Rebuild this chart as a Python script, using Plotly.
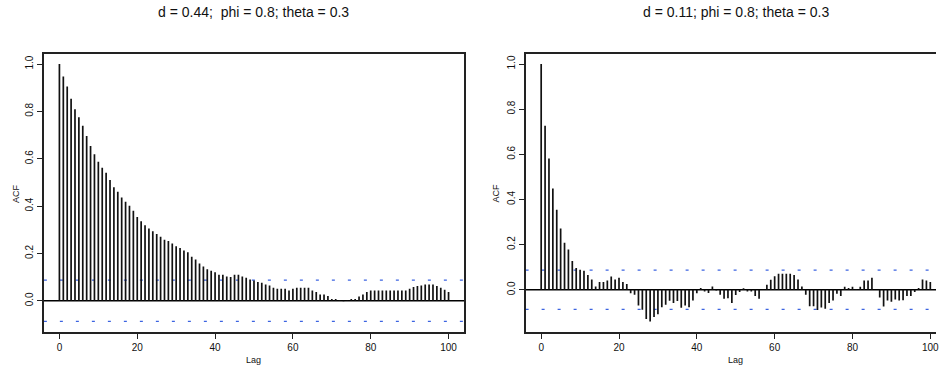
import plotly.graph_objects as go

# Sample autocorrelations of two simulated ARFIMA(1, d, 1) series, lags 0..100
lags = list(range(101))

acf_d044 = [
    1.000, 0.947, 0.905, 0.853, 0.809, 0.775, 0.739, 0.696, 0.654, 0.619,
    0.587, 0.562, 0.541, 0.510, 0.479, 0.460, 0.436, 0.418, 0.401, 0.380,
    0.354, 0.336, 0.319, 0.305, 0.294, 0.282, 0.270, 0.258, 0.253, 0.242,
    0.230, 0.223, 0.212, 0.205, 0.186, 0.174, 0.157, 0.145, 0.133, 0.127,
    0.121, 0.110, 0.110, 0.103, 0.100, 0.110, 0.110, 0.103, 0.097, 0.090,
    0.086, 0.079, 0.076, 0.069, 0.065, 0.055, 0.051, 0.051, 0.051, 0.044,
    0.051, 0.055, 0.055, 0.055, 0.055, 0.044, 0.037, 0.027, 0.027, 0.020,
    0.008, 0.008, 0.002, -0.002, 0.001, 0.008, 0.008, 0.018, 0.027, 0.037,
    0.044, 0.044, 0.044, 0.044, 0.044, 0.044, 0.044, 0.044, 0.044, 0.044,
    0.051, 0.058, 0.062, 0.065, 0.069, 0.069, 0.069, 0.062, 0.055, 0.047,
    0.037,
]

acf_d011 = [
    1.000, 0.726, 0.582, 0.449, 0.355, 0.272, 0.208, 0.178, 0.127, 0.097,
    0.089, 0.084, 0.065, 0.046, 0.015, 0.034, 0.034, 0.041, 0.059, 0.046,
    0.053, 0.035, 0.026, -0.015, -0.022, -0.070, -0.088, -0.129, -0.140, -0.120,
    -0.108, -0.077, -0.066, -0.049, -0.059, -0.050, -0.080, -0.070, -0.077, -0.047,
    -0.015, 0.008, -0.008, -0.014, 0.015, -0.003, -0.022, -0.040, -0.038, -0.059,
    -0.023, -0.010, 0.007, -0.008, -0.008, -0.027, -0.040, 0.001, 0.022, 0.045,
    0.060, 0.071, 0.071, 0.071, 0.071, 0.065, 0.046, 0.015, -0.022, -0.073,
    -0.073, -0.090, -0.078, -0.084, -0.059, -0.047, -0.017, -0.028, 0.014, 0.008,
    0.014, 0.002, 0.014, 0.041, 0.041, 0.053, 0.000, -0.034, -0.074, -0.047,
    -0.053, -0.043, -0.047, -0.046, -0.028, -0.028, -0.010, 0.008, 0.046, 0.041,
    0.034,
]

conf_limit = 0.087  # approx. 1.96 / sqrt(n)

panel_titles = [
    "d = 0.44;&nbsp; phi = 0.8; theta = 0.3",
    "d = 0.11; phi = 0.8; theta = 0.3",
]
x_tick_vals = [0, 20, 40, 60, 80, 100]
y_tick_vals = [0.0, 0.2, 0.4, 0.6, 0.8, 1.0]
y_tick_text = ["0.0", "0.2", "0.4", "0.6", "0.8", "1.0"]

W, H = 939, 366
FONT = "Liberation Sans, Arial, sans-serif"

# pixel geometry of the two plot boxes
box_top, box_bottom = 53.7, 331.7
left_box = (44.0, 465.6)
right_left = 527.3
x_lo, x_hi = -4.0, 104.0
px_per_lag = (left_box[1] - left_box[0]) / (x_hi - x_lo)
right_x_hi = x_lo + (W - right_left) / px_per_lag


def px_x(p):
    return p / W


def px_y(p):
    return (H - p) / H


def stems(values):
    xs, ys = [], []
    for k, v in zip(lags, values):
        xs += [k, k, None]
        ys += [0, v, None]
    return xs, ys


def y_range(values):
    lo = min(min(values), -conf_limit)
    hi = max(max(values), conf_limit)
    pad = 0.04 * (hi - lo)
    return [lo - pad, hi + pad]


fig = go.Figure()

for i, vals in enumerate([acf_d044, acf_d011]):
    xa = "x" if i == 0 else "x2"
    ya = "y" if i == 0 else "y2"
    sx, sy = stems(vals)
    # confidence bounds
    for c in (conf_limit, -conf_limit):
        fig.add_trace(go.Scatter(
            x=[x_lo, x_hi], y=[c, c], xaxis=xa, yaxis=ya, mode="lines",
            line=dict(color="rgb(60,100,225)", width=1.2, dash="3px,13px"),
            hoverinfo="skip", showlegend=False))
    # zero line
    fig.add_trace(go.Scatter(
        x=[x_lo, x_hi], y=[0, 0], xaxis=xa, yaxis=ya, mode="lines",
        line=dict(color="black", width=1.5), hoverinfo="skip", showlegend=False))
    # ACF spikes
    fig.add_trace(go.Scatter(
        x=sx, y=sy, xaxis=xa, yaxis=ya, mode="lines",
        line=dict(color="#111111", width=1.7), showlegend=False))

axis_common = dict(
    showgrid=False, zeroline=False, showline=True, linecolor="#222222",
    linewidth=1.6, ticks="outside", ticklen=5, tickwidth=1, tickcolor="#222222",
    tickfont=dict(family=FONT, size=10, color="#111111"),
    ticklabeloverflow="allow",
)

fig.update_layout(
    width=W, height=H, margin=dict(l=0, r=0, t=0, b=0),
    paper_bgcolor="white", plot_bgcolor="white",
    xaxis=dict(axis_common, domain=[px_x(left_box[0]), px_x(left_box[1])],
               range=[x_lo, x_hi], tickvals=x_tick_vals, mirror=True,
               anchor="y"),
    yaxis=dict(axis_common, domain=[px_y(box_bottom), px_y(box_top)],
               range=y_range(acf_d044), tickvals=y_tick_vals,
               ticktext=y_tick_text, tickangle=-90, mirror=True, anchor="x"),
    xaxis2=dict(axis_common, domain=[px_x(right_left), 1.0],
                range=[x_lo, right_x_hi], tickvals=x_tick_vals, mirror=True,
                anchor="y2"),
    yaxis2=dict(axis_common, domain=[px_y(box_bottom), px_y(box_top)],
                range=y_range(acf_d011), tickvals=y_tick_vals,
                ticktext=y_tick_text, tickangle=-90, anchor="x2"),
)

centers = [(left_box[0] + left_box[1]) / 2,
           (right_left + right_left + (left_box[1] - left_box[0])) / 2]
acf_label_x = [16, 498]

for i, title in enumerate(panel_titles):
    fig.add_annotation(
        text=title, x=px_x(centers[i]), y=px_y(12), xref="paper", yref="paper",
        showarrow=False, xanchor="center", yanchor="middle",
        font=dict(family=FONT, size=14, color="#111111"))
    fig.add_annotation(
        text="ACF", x=px_x(acf_label_x[i]), y=px_y(193), xref="paper",
        yref="paper", showarrow=False, textangle=-90, xanchor="center",
        yanchor="middle", font=dict(family=FONT, size=9, color="#111111"))
    fig.add_annotation(
        text="Lag", x=px_x(centers[i]), y=px_y(353), xref="paper",
        yref="paper", showarrow=False, xanchor="center", yanchor="top",
        font=dict(family=FONT, size=9, color="#111111"))

fig.write_html("out.html")
